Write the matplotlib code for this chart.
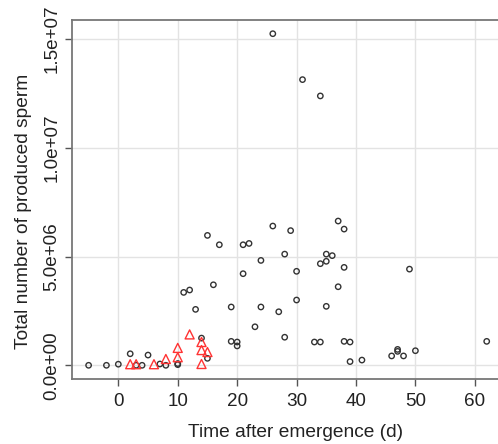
import matplotlib
matplotlib.use("Agg")
import matplotlib.pyplot as plt

# Circles (black)
circ_x = [-5, -2, 0, 2, 3, 4, 5, 7, 8, 10, 10, 11, 12, 13, 14, 15, 15, 16, 17, 19, 19, 20, 20,
          21, 21, 22, 23, 24, 24, 26, 26, 27, 28, 28, 29, 30, 30, 31, 34, 33, 34, 34, 35, 35, 35,
          36, 37, 37, 38, 38, 38, 39, 39, 41, 46, 47, 47, 48, 49, 50, 62]
circ_y = [0.0, 0.0, 0.05, 0.53, 0.0, 0.0, 0.47, 0.06, 0.0, 0.08, 0.03, 3.35, 3.46, 2.57, 1.25, 5.97, 0.32, 3.7, 5.54, 2.68, 1.1, 1.07, 0.89,
          5.54, 4.21, 5.6, 1.77, 4.82, 2.68, 15.24, 6.4, 2.46, 5.11, 1.29, 6.19, 4.32, 3.0, 13.13, 12.38, 1.07, 1.07, 4.67, 5.11, 4.78, 2.71,
          5.04, 6.63, 3.61, 6.26, 4.5, 1.1, 1.07, 0.17, 0.24, 0.43, 0.73, 0.64, 0.43, 4.42, 0.67, 1.1]
# Triangles (red)
tri_x = [2, 3, 6, 8, 10, 10, 12, 14, 14, 14, 15]
tri_y = [0.05, 0.05, 0.05, 0.29, 0.8, 0.37, 1.42, 1.07, 0.70, 0.06, 0.61]

x_ticks = [0, 10, 20, 30, 40, 50, 60]
y_ticks = [0, 5e6, 1e7, 1.5e7]
y_ticklabels = ["0.0e+00", "5.0e+06", "1.0e+07", "1.5e+07"]

plt.rcParams['font.family'] = ['Liberation Sans', 'DejaVu Sans']

fig = plt.figure(figsize=(4.98, 4.44), dpi=100)
W, H = 498, 444
ax = fig.add_axes([71.5 / W, 65 / H, 1 - 71.5 / W, (379 - 20) / H])

ax.scatter(circ_x, [y * 1e6 for y in circ_y], s=15, facecolors='none',
           edgecolors='#333333', linewidths=1.0, marker='o', zorder=3)
ax.scatter(tri_x, [y * 1e6 for y in tri_y], s=42, facecolors='none',
           edgecolors='#ff3333', linewidths=1.0, marker='^', zorder=4)

ax.set_xlim(-7.88, 63.9)
ax.set_ylim(-0.63e6, 15.87e6)
ax.set_xticks(x_ticks)
ax.set_yticks(y_ticks)
ax.set_yticklabels(y_ticklabels, rotation=90, va='center')
ax.grid(True, color='#e3e3e3', linewidth=1.0, zorder=0)
ax.set_axisbelow(True)

for side in ['left', 'bottom', 'top']:
    ax.spines[side].set_color('#777777')
    ax.spines[side].set_linewidth(1.3)
ax.spines['right'].set_visible(False)

ax.tick_params(axis='x', length=5, width=1.0, color='#555555', pad=5, labelsize=13.6, labelcolor='#222222')
ax.tick_params(axis='y', length=5, width=1.0, color='#555555', pad=3, labelsize=13.6, labelcolor='#222222')

ax.set_xlabel("Time after emergence (d)", fontsize=13.8, color='#222222', labelpad=10)
ax.set_ylabel("Total number of produced sperm", fontsize=13.8, color='#222222', labelpad=8)
ax.xaxis.label.set_x(0.526)
ax.yaxis.label.set_y(0.468)

fig.savefig("out.png", dpi=100)
